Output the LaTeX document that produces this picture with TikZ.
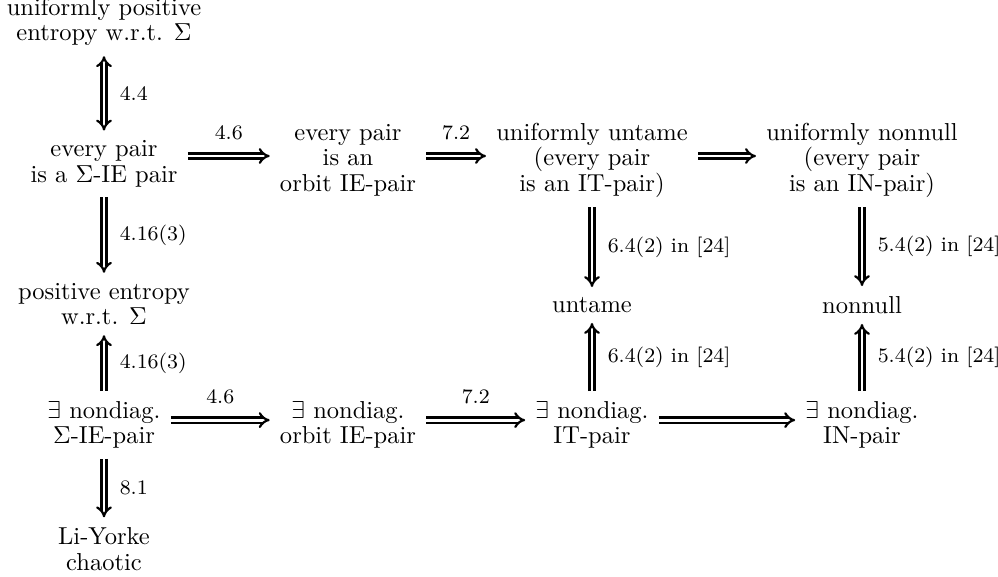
\documentclass[tikz,border=0pt]{standalone}
\usetikzlibrary{arrows.meta}
\begin{document}
\begin{tikzpicture}[x=0.408pt,y=-0.408pt,
  lbl/.style={align=center, font=\fontsize{10}{10.4}\selectfont, inner sep=4pt},
  imp/.style={double, double distance=1.2pt, line width=0.9pt, -{Implies}},
  iff/.style={double, double distance=1.2pt, line width=0.9pt, {Implies}-{Implies}},
  elab/.style={font=\fontsize{8.4}{10}\selectfont, inner sep=1pt}]
\useasboundingbox (0,0) rectangle (998,577);
\node[lbl] (A) at (104,22) {uniformly positive\\entropy w.r.t. $\Sigma$};
\node[lbl] (B) at (104,164) {every pair\\is a $\Sigma$-IE pair};
\node[lbl] (C) at (348,160) {every pair\\is an\\orbit IE-pair};
\node[lbl] (D) at (592,160) {uniformly untame\\(every pair\\is an IT-pair)};
\node[lbl] (E) at (862,160) {uniformly nonnull\\(every pair\\is an IN-pair)};
\node[lbl] (F) at (104,304) {positive entropy\\w.r.t. $\Sigma$};
\node[lbl] (G) at (592,305) {untame};
\node[lbl] (H) at (862,305) {nonnull};
\node[lbl] (I) at (104,425) {$\exists$ nondiag.\\$\Sigma$-IE-pair};
\node[lbl] (J) at (348,425) {$\exists$ nondiag.\\orbit IE-pair};
\node[lbl] (K) at (592,425) {$\exists$ nondiag.\\IT-pair};
\node[lbl] (L) at (862,425) {$\exists$ nondiag.\\IN-pair};
\node[lbl] (M) at (104,549) {Li-Yorke\\chaotic};
\draw[iff] (A) -- (B) node[midway, right=5pt, elab] {4.4};
\draw[imp] (B) -- (F) node[midway, right=5pt, elab] {4.16(3)};
\draw[imp] (I) -- (F) node[midway, right=5pt, elab] {4.16(3)};
\draw[imp] (I) -- (M) node[midway, right=5pt, elab] {8.1};
\draw[imp] (B.east |- 0,156) -- (C.west |- 0,156) node[midway, above=5pt, elab] {4.6};
\draw[imp] (C.east |- 0,156) -- (D.west |- 0,156) node[midway, above=5pt, elab] {7.2};
\draw[imp] (D.east |- 0,156) -- (E.west |- 0,156);
\draw[imp] (D) -- (G) node[midway, right=5pt, elab] {6.4(2) in [24]};
\draw[imp] (K) -- (G) node[midway, right=5pt, elab] {6.4(2) in [24]};
\draw[imp] (E) -- (H) node[midway, right=5pt, elab] {5.4(2) in [24]};
\draw[imp] (L) -- (H) node[midway, right=5pt, elab] {5.4(2) in [24]};
\draw[imp] ([yshift=2pt]I.east) -- ([yshift=2pt]J.west) node[midway, above=5pt, elab] {4.6};
\draw[imp] ([yshift=2pt]J.east) -- ([yshift=2pt]K.west) node[midway, above=5pt, elab] {7.2};
\draw[imp] ([yshift=2pt]K.east) -- ([yshift=2pt]L.west);
\end{tikzpicture}
\end{document}
